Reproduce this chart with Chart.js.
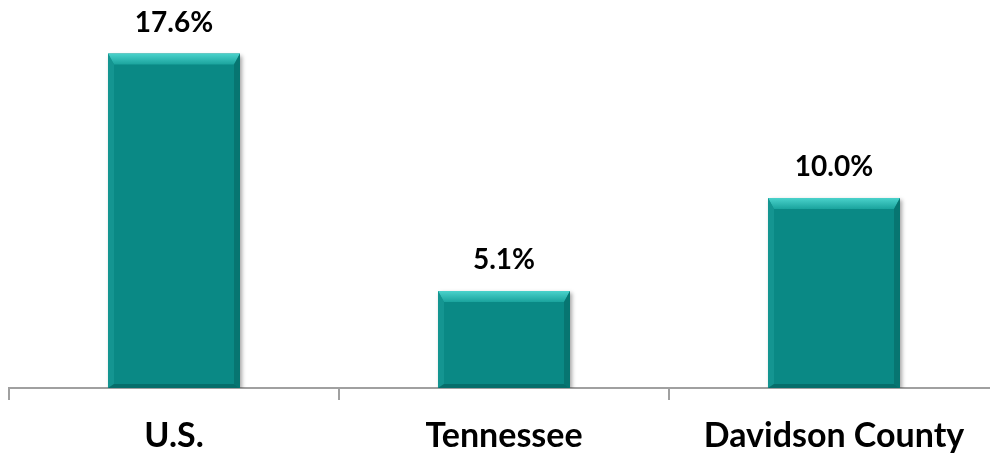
<!DOCTYPE html>
<html>
<head>
<meta charset="utf-8">
<script src="https://cdn.jsdelivr.net/npm/chart.js@4.4.1/dist/chart.umd.min.js"></script>
<style>
  html, body { margin: 0; padding: 0; background: #ffffff; overflow: hidden; }
  #wrap { position: relative; width: 1000px; height: 472px; }
</style>
</head>
<body>
<div id="wrap"><canvas id="grafica"></canvas></div>
<script>
// datos
const categorias = ['U.S.', 'Tennessee', 'Davidson County'];
const valores = [17.6, 5.1, 10.0];
const etiquetas = ['17.6%', '5.1%', '10.0%'];

const colorBarra = '#0A8985';

// relieve de las barras (bisel claro arriba, lados algo mas oscuros)
const biselBarras = {
    id: 'biselBarras',
    beforeDatasetsDraw(chart) {
        const ctx = chart.ctx;
        ctx.save();
        ctx.shadowColor = 'rgba(0,0,0,0.35)';
        ctx.shadowBlur = 4;
        ctx.shadowOffsetX = 2;
        ctx.shadowOffsetY = 2;
    },
    afterDatasetsDraw(chart) {
        const ctx = chart.ctx;
        ctx.restore();
        const meta = chart.getDatasetMeta(0);
        meta.data.forEach(function(bar) {
            const l = bar.x - bar.width / 2;
            const r = bar.x + bar.width / 2;
            const t = bar.y;
            const b = bar.base;
            const bt = 11, bs = 6, bb = 4;
            ctx.save();
            // arriba
            const g = ctx.createLinearGradient(0, t, 0, t + bt);
            g.addColorStop(0, '#4AD2CB');
            g.addColorStop(1, '#1AA39D');
            ctx.fillStyle = g;
            ctx.beginPath();
            ctx.moveTo(l, t); ctx.lineTo(r, t); ctx.lineTo(r - bs, t + bt); ctx.lineTo(l + bs, t + bt);
            ctx.closePath(); ctx.fill();
            // izquierda
            ctx.fillStyle = 'rgba(22,152,147,0.8)';
            ctx.beginPath();
            ctx.moveTo(l, t); ctx.lineTo(l + bs, t + bt); ctx.lineTo(l + bs, b - bb); ctx.lineTo(l, b);
            ctx.closePath(); ctx.fill();
            // derecha
            ctx.fillStyle = 'rgba(6,112,108,0.8)';
            ctx.beginPath();
            ctx.moveTo(r, t); ctx.lineTo(r - bs, t + bt); ctx.lineTo(r - bs, b - bb); ctx.lineTo(r, b);
            ctx.closePath(); ctx.fill();
            // abajo
            ctx.fillStyle = 'rgba(5,104,100,0.8)';
            ctx.beginPath();
            ctx.moveTo(l, b); ctx.lineTo(l + bs, b - bb); ctx.lineTo(r - bs, b - bb); ctx.lineTo(r, b);
            ctx.closePath(); ctx.fill();
            ctx.restore();
        });
    }
};

// etiquetas de valor encima de cada barra
const etiquetasValor = {
    id: 'etiquetasValor',
    afterDraw(chart) {
        const ctx = chart.ctx;
        const meta = chart.getDatasetMeta(0);
        ctx.save();
        ctx.font = 'bold 28px Lato';
        ctx.fillStyle = '#000000';
        ctx.textAlign = 'center';
        ctx.textBaseline = 'alphabetic';
        meta.data.forEach(function(bar, i) {
            ctx.fillText(etiquetas[i], bar.x, bar.y - 22);
        });
        ctx.restore();
    }
};

const ctx = document.getElementById('grafica').getContext('2d');
new Chart(ctx, {
    type: 'bar',
    data: {
        labels: categorias,
        datasets: [{
            data: valores,
            backgroundColor: colorBarra,
            borderWidth: 0,
            barPercentage: 0.8,
            categoryPercentage: 0.5
        }]
    },
    options: {
        responsive: true,
        maintainAspectRatio: false,
        animation: false,
        layout: { padding: { left: 9, right: 1, top: 8, bottom: 0 } },
        plugins: {
            legend: { display: false },
            tooltip: { enabled: false }
        },
        scales: {
            y: {
                display: false,
                min: 0,
                max: 20
            },
            x: {
                grid: {
                    offset: true,
                    drawOnChartArea: false,
                    drawTicks: true,
                    tickLength: 12,
                    color: '#A0A0A0',
                    lineWidth: 2
                },
                border: { color: '#A0A0A0', width: 2 },
                ticks: {
                    color: '#000000',
                    font: { family: 'Lato', weight: 'bold', size: 34, lineHeight: 1.0 },
                    padding: 19
                }
            }
        }
    },
    plugins: [biselBarras, etiquetasValor]
});
</script>
</body>
</html>
